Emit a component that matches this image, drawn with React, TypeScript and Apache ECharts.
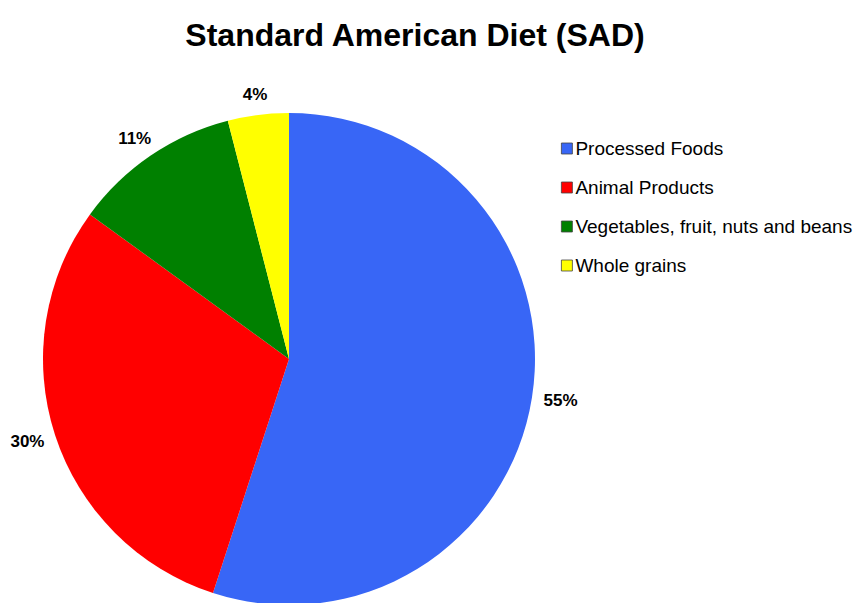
import React, { useEffect, useRef } from "react";
import * as echarts from "echarts";

const TITLE = "Standard American Diet (SAD)";
const categories = [
  "Processed Foods",
  "Animal Products",
  "Vegetables, fruit, nuts and beans",
  "Whole grains",
];
const values = [55, 30, 11, 4];
const colors = ["#3866f6", "#ff0000", "#008000", "#ffff00"];

const CX = 289;
const CY = 359;
const R = 246;
const ANCHOR_R = 258;

export default function App() {
  const ref = useRef<HTMLDivElement>(null);
  useEffect(() => {
    if (!ref.current) return;
    const chart = echarts.init(ref.current, undefined, { renderer: "svg" });
    const total = values.reduce((a, b) => a + b, 0);
    const mids: number[] = [];
    let acc = 0;
    values.forEach((v) => {
      mids.push(((acc + v / 2) / total) * Math.PI * 2);
      acc += v;
    });
    chart.setOption({
      animation: false,
      backgroundColor: "#ffffff",
      title: {
        text: TITLE,
        left: 410,
        textAlign: "center",
        top: 14,
        textStyle: {
          fontFamily: "Liberation Sans, Arial, sans-serif",
          fontWeight: "bold",
          fontSize: 32,
          color: "#000",
        },
      },
      legend: {
        orient: "vertical",
        left: 556,
        top: 134,
        itemWidth: 11,
        itemHeight: 11,
        itemGap: 20,
        icon: "rect",
        itemStyle: { borderColor: "#444", borderWidth: 0.8 },
        textStyle: {
          fontFamily: "Liberation Sans, Arial, sans-serif",
          fontSize: 19,
          color: "#000",
          padding: [0, 0, 0, -2],
        },
        data: categories,
      },
      series: [
        {
          type: "pie",
          center: [CX, CY],
          radius: R,
          startAngle: 90,
          clockwise: true,
          color: colors,
          itemStyle: { borderWidth: 0 },
          label: {
            show: true,
            position: "outside",
            formatter: "{d}%",
            overflow: "none",
            fontFamily: "Liberation Sans, Arial, sans-serif",
            fontWeight: "bold",
            fontSize: 17,
            color: "#000",
          },
          labelLine: { show: false },
          labelLayout: (params: any) => {
            const a = mids[params.dataIndex];
            const dx = Math.sin(a);
            const dy = -Math.cos(a);
            const w = params.labelRect ? params.labelRect.width : 34;
            const h = params.labelRect ? params.labelRect.height : 17;
            return {
              x: CX + ANCHOR_R * dx + (dx * w) / 2,
              y: CY + ANCHOR_R * dy + (dy * h) / 2,
              align: "center",
              verticalAlign: "middle",
            };
          },
          emphasis: { disabled: true },
          data: categories.map((name, i) => ({ name, value: values[i] })),
        },
      ],
    });
    return () => chart.dispose();
  }, []);
  return (
    <div
      ref={ref}
      style={{ position: "fixed", left: 0, top: 0, width: 861, height: 603 }}
    />
  );
}
